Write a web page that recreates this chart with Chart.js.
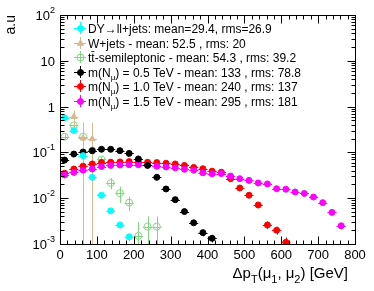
<!DOCTYPE html>
<html>
<head>
<meta charset="utf-8">
<script src="https://cdn.jsdelivr.net/npm/chart.js@4.4.1/dist/chart.umd.min.js"></script>
<style>
  html, body { margin: 0; padding: 0; background: #fff; }
  #wrap { width: 374px; height: 291px; }
</style>
</head>
<body>
<div id="wrap"><canvas id="chart" width="374" height="291"></canvas></div>
<script>
/* Δp_T(μ1, μ2) — background vs heavy neutrino signal, log scale */
const binWidth = 25;
const binCenters = [12.5, 37.5, 62.5, 87.5, 112.5, 137.5, 162.5, 187.5, 212.5, 237.5,
  262.5, 287.5, 312.5, 337.5, 362.5, 387.5, 412.5, 437.5, 462.5, 487.5, 512.5, 537.5,
  562.5, 587.5, 612.5, 637.5, 662.5, 687.5, 712.5, 737.5, 762.5];

const dyValues = [0.57, 0.30, 0.085, 0.0286, 0.0116, 0.0053, 0.0026, 0.00144];
const dyErrors = [0.012, 0.008, 0.004, 0.002, 0.001, 0.0006, 0.0004, 0.0003];

const wjValues = [null, 0.60, 0.204, 0.196];
const wjErrors = [null, 0.22, 0.24, 0.24];

const ttValues = [0.22, 0.39, 0.22, 0.11, 0.07, 0.0215, 0.0129, 0.0080, 0.0015, 0.0024, 0.0024];
const ttErrors = [0.03, 0.05, 0.03, 0.015, 0.01, 0.006, 0.005, 0.0028, 0.0015, 0.0016, 0.0016];

const m05Values = [0.068, 0.092, 0.102, 0.109, 0.117, 0.117, 0.109, 0.095, 0.072, 0.052,
  0.0286, 0.0159, 0.0093, 0.0051, 0.0029, 0.00177, 0.00133];
const m05Errors = [0.003, 0.003, 0.003, 0.003, 0.003, 0.003, 0.003, 0.003, 0.0025, 0.002,
  0.0015, 0.0011, 0.0008, 0.0006, 0.0004, 0.0003, 0.00025];

const m10Values = [0.035, 0.0435, 0.050, 0.056, 0.060, 0.061, 0.062, 0.063, 0.062, 0.061,
  0.060, 0.058, 0.056, 0.052, 0.047, 0.044, 0.039, 0.037, 0.0267, 0.0167, 0.0116, 0.0071,
  0.0026, 0.0020, 0.00109];
const m10Errors = [0.002, 0.002, 0.002, 0.002, 0.002, 0.002, 0.002, 0.002, 0.002, 0.002,
  0.002, 0.002, 0.002, 0.002, 0.002, 0.002, 0.002, 0.002, 0.0015, 0.0012, 0.001, 0.0008,
  0.0005, 0.0004, 0.0003];

const m15Values = [0.032, 0.0365, 0.041, 0.0435, 0.049, 0.052, 0.053, 0.054, 0.054, 0.053,
  0.050, 0.048, 0.046, 0.0427, 0.041, 0.036, 0.034, 0.0345, 0.0305, 0.0267, 0.0245, 0.0215,
  0.0205, 0.0161, 0.0157, 0.0137, 0.0127, 0.0106, 0.0080, 0.0049, 0.0025];
const m15Errors = [0.0015, 0.0015, 0.0015, 0.0015, 0.0015, 0.0015, 0.0015, 0.0015, 0.0015,
  0.0015, 0.0015, 0.0015, 0.0015, 0.0015, 0.0015, 0.0015, 0.0015, 0.0015, 0.0014, 0.0013,
  0.0012, 0.0011, 0.0011, 0.001, 0.001, 0.0009, 0.0009, 0.0008, 0.0007, 0.0005, 0.0004];

const legendLabels = [
  "DY\u2192ll+jets: mean=29.4, rms=26.9",
  "W+jets - mean: 52.5 , rms: 20",
  "tt\u0304-semileptonic - mean: 54.3 , rms: 39.2",
  "m(N_{\u03bc}) = 0.5 TeV - mean: 133 , rms: 78.8",
  "m(N_{\u03bc}) = 1.0 TeV - mean: 240 , rms: 137",
  "m(N_{\u03bc}) = 1.5 TeV - mean: 295 , rms: 181",
];

const xTicks = [0, 100, 200, 300, 400, 500, 600, 700, 800];
const yTickValues = [1e-3, 1e-2, 1e-1, 1, 10, 100];
const yTickBase = ["10", "10", "10", "1", "10", "10"];
const yTickExp = ["-3", "-2", "-1", "", "", "2"];
const xTitle = "\u0394p_{T}(\u03bc_{1}, \u03bc_{2}) [GeV]";
const yTitle = "a.u";

const FONT = "'Liberation Sans', Arial, Helvetica, sans-serif";

const points = (vals, errs) =>
  vals.map((v, i) => (v == null ? null : { x: binCenters[i], y: v, err: errs[i] })).filter(Boolean);

function series(label, vals, errs, color, opts = {}) {
  return Object.assign({
    label, data: points(vals, errs), barColor: color,
    pointStyle: "circle", pointRadius: 3, pointHoverRadius: 3,
    backgroundColor: color, borderColor: color, pointBorderWidth: 1, showLine: false,
  }, opts);
}

// split "a_{b}c" into [[text, isSub], ...]
function pieces(s) {
  return s.split(/_\{([^}]*)\}/).map((t, i) => [t, i % 2 === 1]).filter((p) => p[0]);
}

function drawRich(ctx, s, x, y, size, align) {
  const big = `${size}px ${FONT}`, small = `${Math.round(size * 0.7)}px ${FONT}`;
  const parts = pieces(s);
  const w = parts.reduce((a, [t, sub]) => { ctx.font = sub ? small : big; return a + ctx.measureText(t).width; }, 0);
  let cx = align === "right" ? x - w : x;
  ctx.textAlign = "left";
  parts.forEach(([t, sub]) => {
    ctx.font = sub ? small : big;
    ctx.fillText(t, cx, sub ? y + size * 0.3 : y);
    cx += ctx.measureText(t).width;
  });
}

const errorBars = {
  id: "errorBars",
  beforeDatasetDraw(chart, args) {
    const { ctx, chartArea: a, scales: { x, y } } = chart;
    const ds = chart.data.datasets[args.index];
    ctx.save();
    ctx.beginPath(); ctx.rect(a.left, a.top, a.width, a.height); ctx.clip();
    ctx.strokeStyle = ds.barColor; ctx.lineWidth = 1;
    ctx.beginPath();
    ds.data.forEach((p) => {
      const px = Math.round(x.getPixelForValue(p.x)) + 0.5;
      const py = Math.round(y.getPixelForValue(p.y)) + 0.5;
      const yTop = y.getPixelForValue(p.y + p.err);
      const yBot = p.y - p.err > 0 ? y.getPixelForValue(p.y - p.err) : a.bottom;
      ctx.moveTo(x.getPixelForValue(p.x - binWidth / 2), py);
      ctx.lineTo(x.getPixelForValue(p.x + binWidth / 2), py);
      ctx.moveTo(px, yTop); ctx.lineTo(px, yBot);
    });
    ctx.stroke();
    ctx.restore();
  },
};

const frame = {
  id: "frame",
  afterDraw(chart) {
    const { ctx, chartArea: a, scales: { x, y } } = chart;
    ctx.save();
    ctx.strokeStyle = "#000"; ctx.lineWidth = 1;
    const L = Math.round(a.left) + 0.5, R = Math.round(a.right) + 0.5;
    const T = Math.round(a.top) + 0.5, B = Math.round(a.bottom) + 0.5;
    ctx.strokeRect(L, T, R - L, B - T);
    ctx.beginPath();
    // x ticks, every 20 with majors at the labelled values
    for (let v = 0; v <= 800; v += 20) {
      const px = Math.round(x.getPixelForValue(v)) + 0.5;
      const len = xTicks.includes(v) ? 8 : 4;
      ctx.moveTo(px, B); ctx.lineTo(px, B - len);
      ctx.moveTo(px, T); ctx.lineTo(px, T + len);
    }
    // y ticks, log decades with 2..9 minors
    yTickValues.forEach((d) => {
      for (let k = 1; k <= 9; k++) {
        const v = d * k;
        if (v > 100) break;
        const py = Math.round(y.getPixelForValue(v)) + 0.5;
        const len = k === 1 ? 8 : 4;
        ctx.moveTo(L, py); ctx.lineTo(L + len, py);
        ctx.moveTo(R, py); ctx.lineTo(R - len, py);
      }
    });
    ctx.stroke();

    // y labels with superscripts
    ctx.fillStyle = "#000"; ctx.textBaseline = "alphabetic";
    yTickValues.forEach((v, i) => {
      const py = y.getPixelForValue(v);
      ctx.font = `9px ${FONT}`;
      const ew = yTickExp[i] ? ctx.measureText(yTickExp[i]).width : 0;
      ctx.font = `13px ${FONT}`;
      const bw = ctx.measureText(yTickBase[i]).width;
      const right = a.left - 5;
      ctx.textAlign = "left";
      ctx.fillText(yTickBase[i], right - ew - bw, py + 5);
      if (yTickExp[i]) { ctx.font = `9px ${FONT}`; ctx.fillText(yTickExp[i], right - ew, py - 2); }
    });

    // axis titles
    drawRich(ctx, xTitle, a.right - 7, 278, 15, "right");
    ctx.save();
    ctx.translate(15, a.top); ctx.rotate(-Math.PI / 2);
    ctx.font = `14px ${FONT}`; ctx.textAlign = "right";
    ctx.fillText(yTitle, 0, 0);
    ctx.restore();

    // legend
    const rowY = [28, 43, 57, 72, 86, 101];
    chart.data.datasets.forEach((ds, i) => {
      const mx = 80, my = rowY[i];
      ctx.strokeStyle = ds.barColor; ctx.beginPath();
      ctx.moveTo(mx - 6, my + 0.5); ctx.lineTo(mx + 6, my + 0.5);
      ctx.moveTo(mx + 0.5, my - 6); ctx.lineTo(mx + 0.5, my + 6);
      ctx.stroke();
      ctx.fillStyle = ds.backgroundColor;
      Chart.helpers.drawPoint(ctx, { pointStyle: ds.pointStyle, radius: ds.pointRadius,
        borderWidth: ds.pointBorderWidth, rotation: 0 }, mx + 0.5, my + 0.5);
      ctx.fillStyle = "#000";
      drawRich(ctx, legendLabels[i], 88, my + 4.5, 12, "left");
    });
    ctx.restore();
  },
};

new Chart(document.getElementById("chart"), {
  type: "scatter",
  data: {
    datasets: [
      series(legendLabels[0], dyValues, dyErrors, "#00ffff", { order: 0 }),
      series(legendLabels[1], wjValues, wjErrors, "#d9b88e", { order: 4, pointStyle: "triangle", pointRadius: 3.5 }),
      series(legendLabels[2], ttValues, ttErrors, "#7fd87f", { order: 5, backgroundColor: "rgba(255,255,255,0)", pointRadius: 3.5 }),
      series(legendLabels[3], m05Values, m05Errors, "#000000", { order: 1 }),
      series(legendLabels[4], m10Values, m10Errors, "#ff0000", { order: 3 }),
      series(legendLabels[5], m15Values, m15Errors, "#ff00ff", { order: 2 }),
    ],
  },
  options: {
    responsive: false, animation: false, events: [],
    layout: { padding: { top: 15, right: 19, left: 0, bottom: 0 } },
    plugins: { legend: { display: false }, tooltip: { enabled: false } },
    scales: {
      x: {
        type: "linear", min: 0, max: 800,
        afterFit: (s) => { s.height = 47; },
        afterBuildTicks: (s) => { s.ticks = xTicks.map((v) => ({ value: v })); },
        grid: { display: false, drawTicks: false }, border: { display: false },
        ticks: { color: "#000", font: { family: FONT, size: 13 }, padding: 4, maxRotation: 0,
                 callback: (v) => String(v) },
      },
      y: {
        type: "logarithmic", min: 1e-3, max: 100,
        afterFit: (s) => { s.width = 60; },
        grid: { display: false }, border: { display: false },
        ticks: { display: false },
      },
    },
  },
  plugins: [errorBars, frame],
});
</script>
</body>
</html>
